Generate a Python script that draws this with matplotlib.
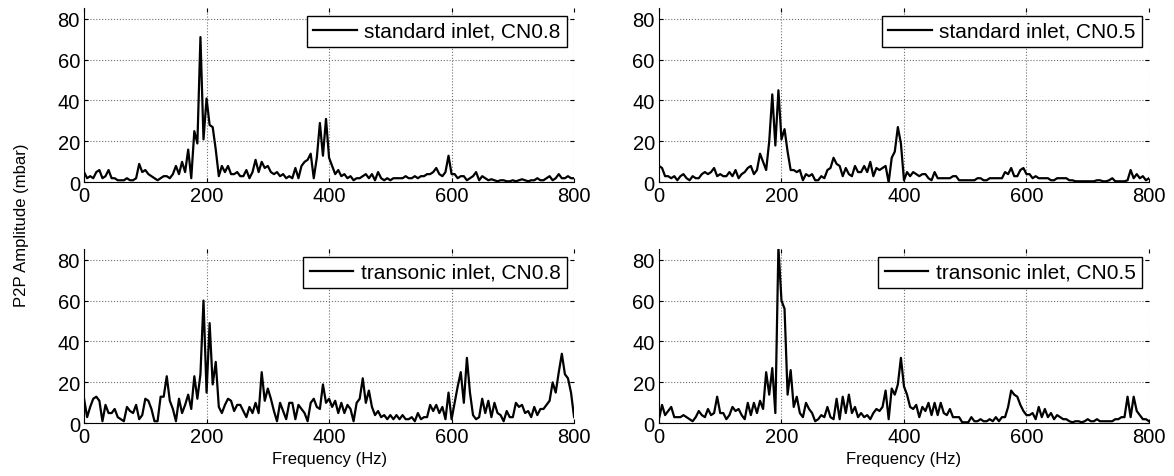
import numpy as np
import matplotlib
matplotlib.use("Agg")
import matplotlib.pyplot as plt

plt.rcParams['font.family'] = ['Liberation Sans', 'DejaVu Sans']

# frequency axis, 5 Hz steps from 0 to 800 Hz
freq = np.arange(0, 801, 5)

# P2P amplitude (mbar), one row per 100 Hz
std_cn08 = [
    5, 2, 3, 2, 5, 6, 2, 3, 6, 2, 2, 1, 1, 1, 2, 1, 1, 2, 9, 5,
    6, 4, 3, 2, 1, 2, 3, 3, 2, 4, 8, 4, 10, 5, 16, 2, 25, 19, 71, 21,
    41, 28, 27, 16, 3, 8, 5, 8, 4, 4, 5, 3, 3, 6, 2, 5, 11, 5, 10, 7,
    8, 5, 4, 5, 3, 4, 2, 3, 2, 7, 2, 8, 10, 11, 14, 2, 12, 29, 13, 31,
    12, 8, 4, 6, 3, 4, 2, 3, 1, 2, 2, 3, 4, 2, 4, 1, 5, 2, 1, 2,
    1, 2, 2, 2, 2, 3, 2, 2, 3, 2, 3, 3, 4, 4, 5, 7, 4, 3, 5, 13,
    4, 4, 2, 3, 3, 1, 2, 3, 5, 1, 3, 2, 1, 1.5, 1, 0.5, 1, 1, 0.5, 0.5,
    1, 0.5, 1, 1.5, 1, 0.5, 1, 1, 2, 1, 1, 2, 3, 1, 2, 4, 2, 2, 3, 2,
    2,
]
std_cn05 = [
    8, 7, 3, 3, 2, 3, 1, 3, 4, 2, 1, 3, 2, 2, 4, 5, 4, 5, 7, 3,
    4, 3, 3, 5, 3, 6, 2, 4, 5, 7, 8, 4, 6, 14, 10, 6, 20, 43, 18, 45,
    21, 26, 15, 6, 6, 5, 6, 1, 4, 3, 4, 1, 1, 3, 2, 6, 7, 12, 9, 8,
    3, 7, 4, 3, 8, 5, 5, 8, 5, 10, 3, 7, 6, 7, 8, 0, 12, 15, 27, 19,
    1, 5, 3, 5, 4, 3, 4, 4, 2, 1, 5, 2, 2, 2, 2, 2, 3, 3, 1, 1,
    1, 1, 1, 1, 2, 2, 1, 1, 2, 2, 2, 2, 2, 5, 4, 7, 3, 3, 6, 7,
    4, 4, 2, 3, 2, 2, 2, 2, 1, 1, 2, 2, 2, 2, 1, 1, 0.5, 0.5, 0.5, 0.5,
    0.5, 0.5, 0.5, 1, 1, 0.5, 0.5, 1, 2, 0.5, 0.5, 0.5, 0.5, 1, 6, 2, 4, 2, 3, 1,
    2,
]
trans_cn08 = [
    12, 3, 8, 12, 13, 11, 1, 9, 5, 5, 7, 3, 2, 1, 8, 6, 5, 9, 2, 4,
    12, 11, 7, 1, 1, 13, 13, 23, 11, 7, 1, 12, 5, 9, 14, 7, 23, 12, 24, 60,
    15, 49, 19, 30, 8, 5, 9, 12, 11, 6, 9, 9, 6, 3, 8, 5, 10, 5, 25, 11,
    17, 12, 6, 1, 10, 6, 2, 10, 10, 2, 9, 7, 5, 1, 10, 12, 8, 7, 19, 10,
    12, 8, 11, 5, 10, 5, 9, 7, 1, 10, 12, 22, 10, 16, 8, 4, 6, 3, 4, 2,
    4, 2, 4, 2, 4, 2, 2, 3, 1, 5, 2, 3, 3, 9, 6, 9, 5, 8, 2, 15,
    2, 10, 18, 25, 10, 32, 15, 4, 2, 3, 12, 5, 11, 3, 10, 5, 4, 1, 6, 3,
    3, 10, 8, 9, 5, 6, 3, 8, 4, 7, 7, 9, 11, 20, 15, 25, 34, 24, 22, 15,
    3,
]
trans_cn05 = [
    2, 9, 4, 6, 8, 3, 3, 3, 4, 3, 2, 1, 3, 6, 4, 3, 7, 4, 5, 13,
    5, 5, 2, 4, 8, 6, 7, 4, 2, 10, 4, 10, 5, 11, 7, 25, 14, 27, 5, 86,
    60, 56, 14, 26, 8, 13, 5, 3, 10, 7, 5, 1, 2, 4, 3, 8, 3, 2, 12, 2,
    13, 5, 14, 5, 8, 3, 5, 3, 4, 2, 5, 7, 6, 8, 16, 2, 17, 14, 19, 32,
    18, 14, 8, 7, 9, 3, 8, 6, 10, 4, 10, 4, 10, 5, 4, 7, 3, 3, 3, 0.5,
    0.5, 0.5, 3, 1, 1, 2, 1, 1, 2, 1, 3, 1, 3, 3, 8, 16, 14, 13, 9, 6,
    4, 4, 5, 2, 8, 3, 7, 3, 5, 2, 4, 3, 2, 2, 1, 0.5, 1, 1, 0.5, 1,
    2, 1, 1, 2, 1, 1, 1, 1, 1, 2, 2, 3, 3, 13, 3, 13, 6, 4, 2, 2,
    1,
]

series = [std_cn08, std_cn05, trans_cn08, trans_cn05]
labels = ['standard inlet, CN0.8', 'standard inlet, CN0.5',
          'transonic inlet, CN0.8', 'transonic inlet, CN0.5']

fig = plt.figure(figsize=(11.74, 4.77), dpi=100)
lefts = [0.0716, 0.5613, 0.0716, 0.5613]
bottoms = [0.6157, 0.6157, 0.1105, 0.1105]

for i in range(4):
    ax = fig.add_axes([lefts[i], bottoms[i], 0.4174, 0.3645])
    ax.plot(freq, series[i], color='black', lw=1.6, label=labels[i])
    ax.set_xlim(0, 800)
    ax.set_ylim(0, 85)
    ax.set_xticks([0, 200, 400, 600, 800])
    ax.set_yticks([0, 20, 40, 60, 80])
    ax.grid(True, linestyle=':', color='#707070', lw=0.8)
    ax.spines['top'].set_visible(False)
    ax.spines['right'].set_visible(False)
    ax.spines['left'].set_linewidth(0.8)
    ax.spines['bottom'].set_linewidth(0.8)
    ax.tick_params(direction='in', length=3, width=0.8, top=True, right=True,
                   labelsize=14.5, pad=3)
    leg = ax.legend(loc='upper right', fontsize=15, fancybox=False,
                    edgecolor='black', framealpha=1, borderpad=0.3,
                    handlelength=2.1, handletextpad=0.35, borderaxespad=0.35)
    leg.get_frame().set_linewidth(1.0)
    if i >= 2:
        ax.set_xlabel('Frequency (Hz)', fontsize=12, labelpad=3)

fig.text(0.018, 0.528, 'P2P Amplitude (mbar)', rotation=90,
         va='center', ha='center', fontsize=12)

fig.savefig('out.png', dpi=100)
